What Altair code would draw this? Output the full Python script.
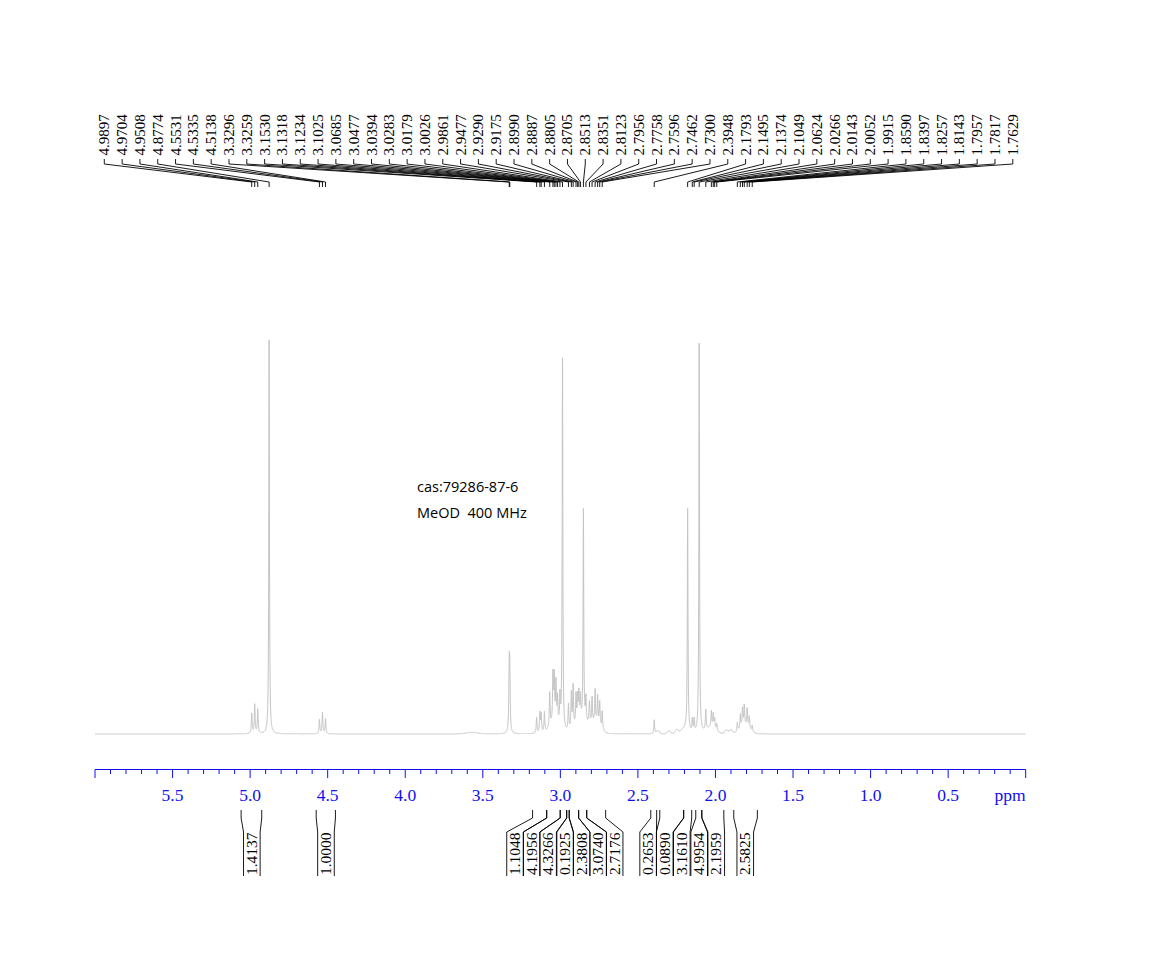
import altair as alt
import numpy as np
import pandas as pd

alt.data_transformers.disable_max_rows()

# ---------------- data ----------------
# peak list printed above the spectrum (ppm)
peak_ppm = [4.9897, 4.9704, 4.9508, 4.8774, 4.5531, 4.5335, 4.5138, 3.3296, 3.3259,
            3.1530, 3.1318, 3.1234, 3.1025, 3.0685, 3.0477, 3.0394, 3.0283, 3.0179,
            3.0026, 2.9861, 2.9477, 2.9290, 2.9175, 2.8990, 2.8887, 2.8805, 2.8705,
            2.8513, 2.8351, 2.8123, 2.7956, 2.7758, 2.7596, 2.7462, 2.7300, 2.3948,
            2.1793, 2.1495, 2.1374, 2.1049, 2.0624, 2.0266, 2.0143, 2.0052, 1.9915,
            1.8590, 1.8397, 1.8257, 1.8143, 1.7957, 1.7817, 1.7629]
# estimated peak heights (arbitrary units, tallest ~394)
peak_height = [20, 29, 24, 394, 14, 21, 15, 60, 52,
               16, 20, 18, 20, 34, 48, 45, 40, 26,
               30, 372, 26, 36, 42, 30, 26, 28, 24,
               212, 24, 22, 26, 33, 28, 24, 18, 14,
               222, 13, 13, 390, 20, 16, 14, 10, 7,
               9, 14, 18, 20, 18, 12, 6]
# unlabelled broad features visible on the trace
broad_ppm = [3.57, 3.04, 2.86, 2.77, 2.37, 2.30, 2.25, 2.20, 2.03, 1.93, 1.90, 1.81]
broad_height = [1.5, 9, 11, 9, 3, 3, 4, 5, 6, 4, 4, 8]
broad_width = [0.04, 0.03, 0.04, 0.03, 0.01, 0.01, 0.01, 0.02, 0.03, 0.01, 0.01, 0.03]

# integrals: value, region start / end (ppm), label centre (ppm)
integral_value = ["1.4137", "1.0000", "1.1048", "4.1956", "4.3266", "0.1925", "2.3808",
                  "3.0740", "2.7176", "0.2653", "0.0890", "3.1610", "4.9954", "2.1959",
                  "2.5825"]
integral_from = [5.058, 4.574, 3.179, 3.088, 3.001, 2.959, 2.943, 2.882, 2.830,
                 2.417, 2.359, 2.205, 2.127, 2.088, 1.882]
integral_to = [4.925, 4.450, 3.088, 3.001, 2.959, 2.943, 2.882, 2.830, 2.708,
               2.379, 2.205, 2.153, 2.088, 1.946, 1.730]
integral_label = [4.989, 4.511, 3.292, 3.185, 3.079, 2.969, 2.863, 2.756, 2.650,
                  2.434, 2.327, 2.217, 2.105, 1.995, 1.808]

axis_major = [6.0, 5.5, 5.0, 4.5, 4.0, 3.5, 3.0, 2.5, 2.0, 1.5, 1.0, 0.5, 0.0]
tick_labels = ["5.5", "5.0", "4.5", "4.0", "3.5", "3.0", "2.5", "2.0", "1.5", "1.0", "0.5"]
tick_label_ppm = [5.5, 5.0, 4.5, 4.0, 3.5, 3.0, 2.5, 2.0, 1.5, 1.0, 0.5]

note_lines = ["cas:79286-87-6", "MeOD\u00a0\u00a0400 MHz"]

# ---------------- layout helpers ----------------
X0_PX, PX_PER_PPM = 1025.7, 155.0
XS = alt.Scale(domain=[6.0, 0.0], range=[95, X0_PX], nice=False, zero=False)
BLUE = "#1010f0"
SERIF = "Liberation Serif"

# spectrum trace (sum of Lorentzian lines at the listed peaks)
grid = np.round(np.arange(0.0, 6.00001, 0.0005), 4)
xs = np.unique(np.concatenate([grid, np.array(peak_ppm), np.array(broad_ppm)]))[::-1]
ys = np.zeros_like(xs)
for p, h in zip(peak_ppm, peak_height):
    g = 0.0025 if h > 100 else 0.003
    ys += h / (1.0 + ((xs - p) / g) ** 2)
for p, h, w in zip(broad_ppm, broad_height, broad_width):
    ys += h * np.exp(-0.5 * ((xs - p) / w) ** 2)
spec = pd.DataFrame({"ppm": np.round(xs, 4), "i": np.round(ys, 2)})

spectrum = alt.Chart(spec).mark_line(color="#c4c4c4", strokeWidth=1).encode(
    x=alt.X("ppm:Q", scale=XS, axis=None),
    y=alt.Y("i:Q", scale=alt.Scale(domain=[0, 394], range=[734, 340], nice=False, zero=False), axis=None),
    order=alt.Order("ppm:Q", sort="descending"),
)

# peak labels
n = len(peak_ppm)
lab_ppm = [(X0_PX - (105 + 17.8 * k)) / PX_PER_PPM for k in range(n)]
pk = pd.DataFrame({"lx": lab_ppm, "px": peak_ppm, "t": [f"{v:.4f}" for v in peak_ppm]})

def seg(df, xa, xb, ya, yb, color="black", w=0.9):
    return alt.Chart(df).mark_rule(color=color, strokeWidth=w).encode(
        x=alt.X(f"{xa}:Q", scale=XS, axis=None), x2=f"{xb}:Q",
        y=alt.value(ya), y2=alt.value(yb))

peak_text = alt.Chart(pk).mark_text(angle=270, align="left", baseline="middle",
                                    font=SERIF, fontSize=15, color="black").encode(
    x=alt.X("lx:Q", scale=XS, axis=None), y=alt.value(155.5), text="t:N")
lead1 = seg(pk, "lx", "lx", 159, 164)
lead2 = seg(pk, "lx", "px", 164, 182)
lead3 = seg(pk, "px", "px", 182, 187)

# axis
ax_line = alt.Chart(pd.DataFrame({"a": [6.0], "b": [0.0]})).mark_rule(color=BLUE, strokeWidth=1).encode(
    x=alt.X("a:Q", scale=XS, axis=None), x2="b:Q", y=alt.value(769.5))
minor = pd.DataFrame({"m": [round(v / 10, 1) for v in range(0, 61) if v % 5 != 0]})
major = pd.DataFrame({"m": axis_major})
ax_minor = alt.Chart(minor).mark_rule(color=BLUE, strokeWidth=1).encode(
    x=alt.X("m:Q", scale=XS, axis=None), y=alt.value(769.5), y2=alt.value(774))
ax_major = alt.Chart(major).mark_rule(color=BLUE, strokeWidth=1).encode(
    x=alt.X("m:Q", scale=XS, axis=None), y=alt.value(769.5), y2=alt.value(778))
ax_labels = alt.Chart(pd.DataFrame({"v": tick_label_ppm, "t": tick_labels})).mark_text(
    font=SERIF, fontSize=17.5, color=BLUE, align="center", baseline="alphabetic").encode(
    x=alt.X("v:Q", scale=XS, axis=None), y=alt.value(800.5), text="t:N")
ax_unit = alt.Chart(pd.DataFrame({"v": [0.0]})).mark_text(
    text="ppm", font=SERIF, fontSize=17.5, color=BLUE, align="right", baseline="alphabetic").encode(
    x=alt.X("v:Q", scale=XS, axis=None), y=alt.value(800.5))

# integrals
HW = 8.3 / PX_PER_PPM
edges = pd.DataFrame({
    "b": integral_from + integral_to,
    "e": [c + HW for c in integral_label] + [c - HW for c in integral_label],
})
int1 = seg(edges, "b", "b", 810, 818)
int2 = seg(edges, "b", "e", 818, 832)
int3 = seg(edges, "e", "e", 832, 876)
int_text = alt.Chart(pd.DataFrame({"c": integral_label, "t": integral_value})).mark_text(
    angle=270, align="left", baseline="middle", font=SERIF, fontSize=15.5, color="black").encode(
    x=alt.X("c:Q", scale=XS, axis=None), y=alt.value(875), text="t:N")

# annotation
note = alt.Chart(pd.DataFrame({"t": note_lines, "y": [488, 514]})).mark_text(
    align="left", baseline="middle", font="Open Sans", fontSize=14.5, color="black").encode(
    x=alt.value(417), y=alt.Y("y:Q", scale=alt.Scale(domain=[0, 953], range=[0, 953]), axis=None),
    text="t:N")

chart = alt.layer(
    spectrum, lead1, lead2, lead3, peak_text,
    ax_line, ax_minor, ax_major, ax_labels, ax_unit,
    int1, int2, int3, int_text, note,
).resolve_scale(y="independent").properties(
    width=1161, height=953, padding=0, autosize=alt.AutoSizeParams(type="none"),
    background="white",
).configure_view(strokeWidth=0)

chart.save("out.html", embed_options={"renderer": "svg", "actions": False})
